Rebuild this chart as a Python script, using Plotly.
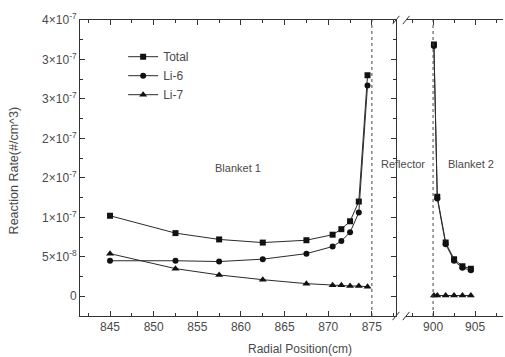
import plotly.graph_objects as go

# ---- data (reaction rate in units of 1e-7 #/cm^3) ----
x_blanket1 = [845, 852.5, 857.5, 862.5, 867.5, 870.5, 871.5, 872.5, 873.5, 874.5]
total_b1 = [1.02, 0.80, 0.72, 0.68, 0.71, 0.78, 0.85, 0.95, 1.20, 2.80]
li6_b1 = [0.45, 0.45, 0.44, 0.47, 0.54, 0.63, 0.70, 0.81, 1.06, 2.67]
li7_b1 = [0.54, 0.35, 0.27, 0.21, 0.16, 0.14, 0.14, 0.13, 0.13, 0.12]

x_blanket2 = [900.1, 900.5, 901.5, 902.5, 903.5, 904.5]
total_b2 = [3.19, 1.26, 0.68, 0.47, 0.38, 0.35]
li6_b2 = [3.17, 1.24, 0.66, 0.45, 0.36, 0.33]
li7_b2 = [0.01, 0.01, 0.01, 0.01, 0.01, 0.01]

y_tickvals = [0, 0.5, 1.0, 1.5, 2.0, 2.5, 3.0, 3.5]
y_ticktext = ["0", "5×10<sup>-8</sup>", "1×10<sup>-7</sup>", "2×10<sup>-7</sup>",
              "2×10<sup>-7</sup>", "3×10<sup>-7</sup>", "3×10<sup>-7</sup>", "4×10<sup>-7</sup>"]
x1_ticks = [845, 850, 855, 860, 865, 870, 875]
x2_ticks = [900, 905]

FONT = "Arial, Liberation Sans, sans-serif"
TXT = "#4a4a4a"
LINE = "#2a2a2a"

series = [
    ("Total", "square", 6, total_b1, total_b2),
    ("Li-6", "circle", 6, li6_b1, li6_b2),
    ("Li-7", "triangle-up", 7, li7_b1, li7_b2),
]

fig = go.Figure()
for name, sym, msize, y1, y2 in series:
    fig.add_trace(go.Scatter(x=x_blanket1, y=y1, mode="lines+markers", name=name,
                             legendgroup=name, xaxis="x", yaxis="y",
                             line=dict(color=LINE, width=1),
                             marker=dict(symbol=sym, size=msize, color="#111")))
    fig.add_trace(go.Scatter(x=x_blanket2, y=y2, mode="lines+markers", name=name,
                             legendgroup=name, showlegend=False, xaxis="x2", yaxis="y",
                             line=dict(color=LINE, width=1),
                             marker=dict(symbol=sym, size=msize, color="#111")))

axis_common = dict(showline=True, linecolor="#333", linewidth=1, mirror="ticks",
                   ticks="inside", ticklen=5, tickcolor="#333", showgrid=False,
                   zeroline=False, tickfont=dict(family=FONT, size=12, color=TXT))

fig.update_layout(
    width=505, height=357,
    margin=dict(l=80, r=2, t=20, b=41, autoexpand=False),
    paper_bgcolor="white", plot_bgcolor="white",
    font=dict(family=FONT, color=TXT),
    xaxis=dict(domain=[0, 0.747], range=[841.56, 877.76], tickvals=x1_ticks,
               minor=dict(dtick=2.5, tick0=845, ticks="inside", ticklen=3, tickcolor="#333"),
               anchor="y", **axis_common),
    xaxis2=dict(domain=[0.771, 1], range=[896.79, 908.33], tickvals=x2_ticks,
                minor=dict(dtick=2.5, tick0=900, ticks="inside", ticklen=3, tickcolor="#333"),
                anchor="y", **axis_common),
    yaxis=dict(range=[-0.25, 3.5], tickvals=y_tickvals, ticktext=y_ticktext,
               minor=dict(dtick=0.25, tick0=0, ticks="inside", ticklen=3, tickcolor="#333"),
               anchor="x", **axis_common),
    legend=dict(x=0.102, y=0.925, xanchor="left", yanchor="top", bgcolor="rgba(0,0,0,0)",
                font=dict(family=FONT, size=12, color=TXT), itemwidth=30,
                tracegroupgap=0),
    showlegend=True,
)

# region boundaries (dashed)
fig.add_shape(type="line", xref="x", yref="paper", x0=875, x1=875, y0=0, y1=1,
              line=dict(color="#444", width=1, dash="3px,3px"))
fig.add_shape(type="line", xref="x2", yref="paper", x0=900, x1=900, y0=0, y1=1,
              line=dict(color="#444", width=1, dash="3px,3px"))

# axis break marks
for yb in (0, 1):
    for xb in (0.747, 0.771):
        fig.add_shape(type="line", xref="paper", yref="paper",
                      x0=xb - 0.008, x1=xb + 0.008, y0=yb - 0.014, y1=yb + 0.014,
                      line=dict(color="#333", width=1))

annots = [
    dict(text="Blanket 1", x=859.7, xref="x", y=1.62, yref="y"),
    dict(text="Reflector", x=0.763, xref="paper", y=1.68, yref="y"),
    dict(text="Blanket 2", x=904.5, xref="x2", y=1.68, yref="y"),
]
for a in annots:
    fig.add_annotation(text=a["text"], x=a["x"], xref=a["xref"], y=a["y"], yref=a["yref"],
                       showarrow=False, xanchor="center",
                       font=dict(family=FONT, size=11, color=TXT))

fig.add_annotation(text="Radial Position(cm)", x=0.52, xref="paper", y=-0.112, yref="paper",
                   showarrow=False, yanchor="middle", xanchor="center",
                   font=dict(family=FONT, size=12, color=TXT))
fig.add_annotation(text="Reaction Rate(#/cm^3)", x=-0.155, xref="paper", y=0.49, yref="paper",
                   showarrow=False, textangle=-90, xanchor="center", yanchor="middle",
                   font=dict(family=FONT, size=12.5, color=TXT))

fig.write_html("out.html", config={"displayModeBar": False},
               post_script="document.body.style.margin='0';document.body.style.overflow='hidden';")
